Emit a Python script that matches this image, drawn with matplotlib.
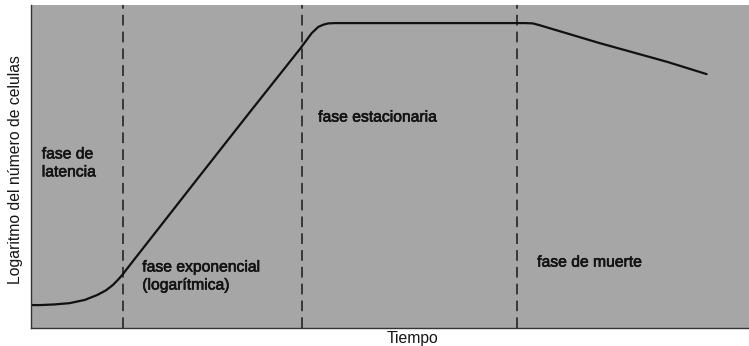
import matplotlib
matplotlib.use("Agg")
import matplotlib.pyplot as plt
import matplotlib.patheffects as pe

# Growth curve: time (arbitrary units 0-100) vs log of cell number (0-100)
tiempo = [0.0, 1.3, 3.3, 5.4, 7.5, 9.2, 10.4, 11.4, 12.1, 12.7, 13.5, 14.2,
          23.5, 30.5, 37.5, 39.1, 40.0, 40.7, 41.4, 42.3, 58.4, 68.8, 69.9,
          70.9, 79.2, 88.6, 94.1]
log_celulas = [7.1, 7.1, 7.3, 7.7, 8.7, 10.2, 11.6, 13.3, 14.9, 16.4, 18.7,
               20.7, 47.1, 66.9, 86.5, 91.3, 93.2, 93.9, 94.3, 94.4, 94.4,
               94.4, 94.3, 93.7, 88.2, 82.4, 78.6]

# Boundaries between phases
limites_fase = [12.8, 37.7, 67.7]

# Phase labels: (x, y, text)
etiquetas = [
    (1.5, 51.1, "fase de\nlatencia"),
    (15.5, 16.1, "fase exponencial\n(logarítmica)"),
    (40.0, 65.3, "fase estacionaria"),
    (70.5, 20.4, "fase de muerte"),
]

FUENTE = "Liberation Sans"
TAM = 11.3

fig = plt.figure(figsize=(7.49, 3.46), dpi=100)
fig.patch.set_facecolor("white")
ax = fig.add_axes([31 / 749, 18 / 346, 718 / 749, 323 / 346])
ax.set_facecolor("#a6a6a6")
ax.set_xlim(0, 100)
ax.set_ylim(0, 100)

for s in ["top", "right"]:
    ax.spines[s].set_visible(False)
for s in ["left", "bottom"]:
    ax.spines[s].set_color("#333333")
    ax.spines[s].set_linewidth(1.0)
ax.set_xticks([])
ax.set_yticks([])

for xb in limites_fase:
    ax.axvline(xb, color="#1a1a1a", lw=1.1, ls=(0, (7, 4)))

ax.plot(tiempo, log_celulas, color="#111111", lw=1.6, solid_capstyle="round")

for x, y, t in etiquetas:
    ax.text(x, y, t, fontsize=TAM, family=FUENTE, color="#141414",
            ha="left", va="center", linespacing=1.25,
            path_effects=[pe.withStroke(linewidth=0.45, foreground="#141414")])

fig.text(413 / 749, 1 - 338 / 346, "Tiempo", fontsize=TAM, family=FUENTE,
         color="#151515", ha="center", va="center")
fig.text(15.5 / 749, 1 - 170 / 346, "Logaritmo del número de celulas",
         fontsize=TAM, family=FUENTE, color="#151515", rotation=90,
         ha="center", va="center")

fig.savefig("out.png", dpi=100, facecolor="white")
